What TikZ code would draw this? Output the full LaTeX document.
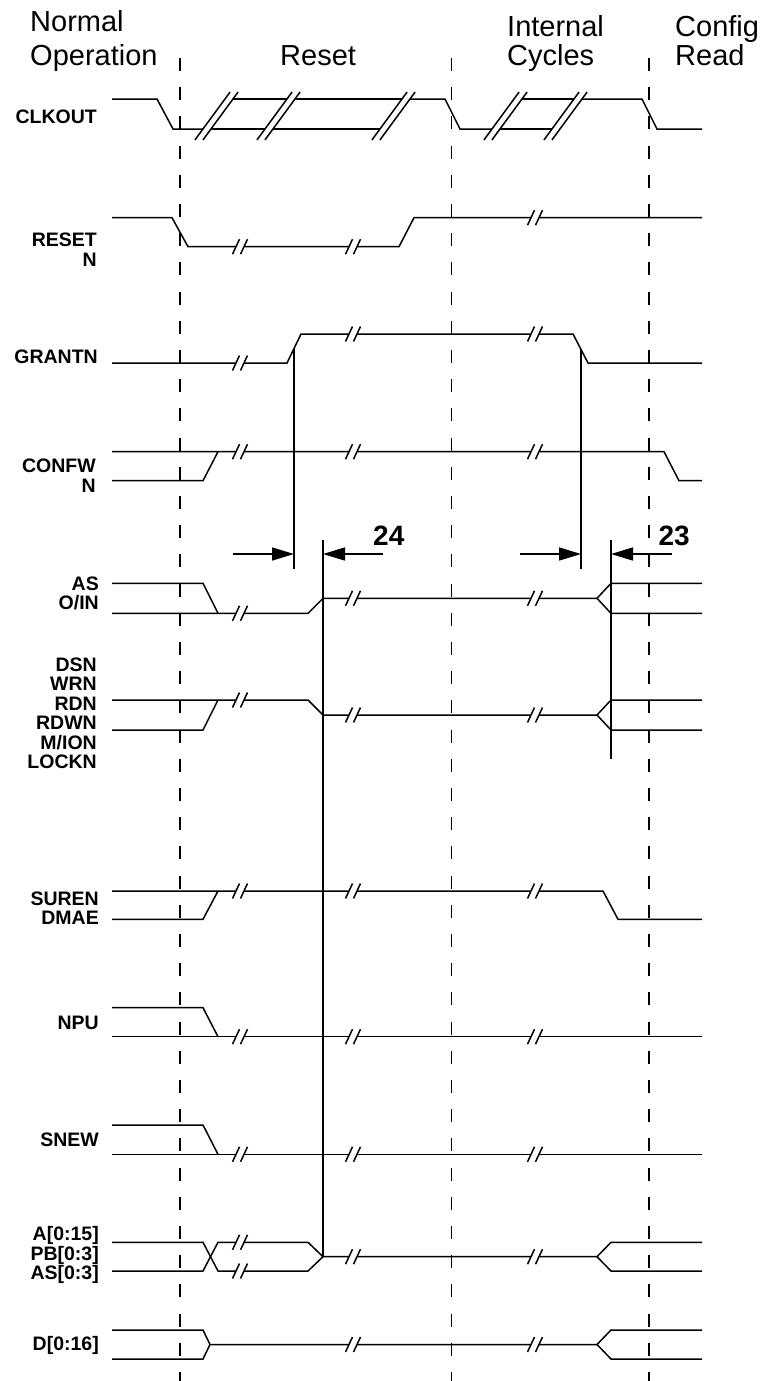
\documentclass[tikz,border=0pt]{standalone}
\usepackage{fontspec}
\setmainfont{Liberation Sans}
\usetikzlibrary{arrows.meta}
\tikzset{
  sig/.style={line width=1.5pt, line cap=butt, line join=miter},
  gridline/.style={line width=1.5pt, dash pattern=on 13pt off 16.2pt},
  lab/.style={font=\fontsize{19.5}{19.5}\selectfont\bfseries, anchor=base east, inner sep=0pt},
  head/.style={font=\fontsize{29}{31}\selectfont, anchor=base west, inner sep=0pt},
  num/.style={font=\fontsize{28}{30}\selectfont\bfseries, anchor=base west, inner sep=0pt},
  dimarrow/.style={line width=1.5pt, -{Triangle[length=22pt,width=13pt]}},
}
\newcommand\brk[2]{\draw[sig] (#1-7.5,#2+7.5) -- (#1-0.5,#2-7.5); \draw[sig] (#1+0.5,#2+7.5) -- (#1+7.5,#2-7.5);}
\newcommand\cb[1]{\draw[sig] (#1-8.1,140) -- (#1+27.1,92);}
\begin{document}
\begin{tikzpicture}[x=1pt,y=-1pt]
\useasboundingbox (0,0) rectangle (765,1381);
% headings
\node[head] (h1) at (30,32) {Normal};
\node[head] (h2) at (30,66) {Operation};
\node[head] (h3) at (280,66) {Reset};
\node[head] (h4) at (507,37) {Internal};
\node[head] (h5) at (507,66) {Cycles};
\node[head] (h6) at (675,37) {Config};
\node[head] (h7) at (675,66) {Read};
% dashed phase lines
\draw[gridline] (180,58) -- (180,1381);
\draw[gridline] (451.7,58) -- (451.7,1381);
\draw[gridline] (649,58) -- (649,1381);
% labels
\node[lab] (l1) at (97,123) {CLKOUT};
\node[lab] (l2a) at (97,246.7) {RESET};
\node[lab] (l2b) at (97,266.2) {N};
\node[lab] (l3) at (98,363.3) {GRANTN};
\node[lab] (l4a) at (96,472.7) {CONFW};
\node[lab] (l4b) at (96,492.2) {N};
\node[lab] (l5a) at (99,590) {AS};
\node[lab] (l5b) at (99,609.5) {O/IN};
\node[lab] (l6a) at (97,671) {DSN};
\node[lab] (l6b) at (97,690.5) {WRN};
\node[lab] (l6c) at (97,710) {RDN};
\node[lab] (l6d) at (97,729.5) {RDWN};
\node[lab] (l6e) at (97,749) {M/ION};
\node[lab] (l6f) at (97,768.5) {LOCKN};
\node[lab] (l7a) at (99,905) {SUREN};
\node[lab] (l7b) at (99,924.5) {DMAE};
\node[lab] (l8) at (99,1029) {NPU};
\node[lab] (l9) at (99,1146) {SNEW};
\node[lab] (l10a) at (99,1240.5) {A[0:15]};
\node[lab] (l10b) at (99,1260) {PB[0:3]};
\node[lab] (l10c) at (99,1279.5) {AS[0:3]};
\node[lab] (l11) at (99,1350.7) {D[0:16]};
% CLKOUT
\draw[sig] (112,99) -- (157,99) -- (173,129) -- (203,129);
\cb{203}\cb{211}
\draw[sig] (233,99) -- (287,99) (211,129) -- (265,129);
\cb{265}\cb{273}
\draw[sig] (295,99) -- (402,99) (273,129) -- (380,129);
\cb{380}\cb{388}
\draw[sig] (410,99) -- (445,99) -- (460,129) -- (492,129);
\cb{492}\cb{500}
\draw[sig] (522,99) -- (574,99) (500,129) -- (552,129);
\cb{552}\cb{560}
\draw[sig] (582,99) -- (642,99) -- (657,129) -- (702,129);
% RESETN
\draw[sig] (112,217.7) -- (172,217.7) -- (188,246.7) -- (236,246.7) (244,246.7) -- (349,246.7) (357,246.7) -- (399,246.7) -- (414,217.7) -- (531,217.7) (539,217.7) -- (702,217.7);
\brk{240}{246.7}\brk{353}{246.7}\brk{535}{217.7}
% GRANTN
\draw[sig] (112,363) -- (236,363) (244,363) -- (287,363) -- (301,334) -- (349,334) (357,334) -- (531,334) (539,334) -- (573,334) -- (588,363) -- (702,363);
\brk{240}{363}\brk{353}{334}\brk{535}{334}
\coordinate (g1) at (294,348.5);
\coordinate (g1e) at (294,569);
\coordinate (g2) at (581,348.5);
\coordinate (g2e) at (581,569);
\draw[sig] (g1) -- (g1e);
\draw[sig] (g2) -- (g2e);
% CONFWN
\draw[sig] (112,451.7) -- (236,451.7) (244,451.7) -- (349,451.7) (357,451.7) -- (531,451.7) (539,451.7) -- (664,451.7) -- (679,480.7) -- (702,480.7);
\draw[sig] (112,480.7) -- (203,480.7) -- (218,451.7);
\brk{240}{451.7}\brk{353}{451.7}\brk{535}{451.7}
% timing 24 / 23
\coordinate (v24) at (323,540);
\coordinate (v24e) at (323,1256.7);
\coordinate (v23) at (611,540);
\coordinate (v23e) at (611,759);
\draw[sig] (v24) -- (v24e);
\draw[sig] (v23) -- (v23e);
\coordinate (a1s) at (233,554);
\coordinate (a1e) at (294,554);
\coordinate (a2s) at (383,554);
\coordinate (a2e) at (323,554);
\coordinate (a3s) at (520,554);
\coordinate (a3e) at (581,554);
\coordinate (a4s) at (672,554);
\coordinate (a4e) at (611,554);
\draw[dimarrow] (a1s) -- (a1e);
\draw[dimarrow] (a2s) -- (a2e);
\draw[dimarrow] (a3s) -- (a3e);
\draw[dimarrow] (a4s) -- (a4e);
\node[num] (n24) at (373,545.7) {24};
\node[num] (n23) at (658.3,545.7) {23};
% AS O/IN
\draw[sig] (112,583.3) -- (203,583.3) -- (218,613.3);
\draw[sig] (112,613.3) -- (236,613.3) (244,613.3) -- (308,613.3) -- (323,598.3) -- (349,598.3) (357,598.3) -- (531,598.3) (539,598.3) -- (597,598.3) -- (611,583.3) -- (702,583.3);
\draw[sig] (597,598.3) -- (611,613.3) -- (702,613.3);
\brk{240}{613.3}\brk{353}{598.3}\brk{535}{598.3}
% DSN group
\draw[sig] (112,700) -- (236,700) (244,700) -- (308,700) -- (323,715) -- (349,715) (357,715) -- (531,715) (539,715) -- (597,715) -- (611,700) -- (702,700);
\draw[sig] (597,715) -- (611,730) -- (702,730);
\draw[sig] (112,730) -- (203,730) -- (218,700);
\brk{240}{700}\brk{353}{715}\brk{535}{715}
% SUREN DMAE
\draw[sig] (112,891) -- (236,891) (244,891) -- (349,891) (357,891) -- (531,891) (539,891) -- (603,891) -- (618,919.3) -- (702,919.3);
\draw[sig] (112,919.3) -- (203,919.3) -- (218,891);
\brk{240}{891}\brk{353}{891}\brk{535}{891}
% NPU
\draw[sig] (112,1007.7) -- (203,1007.7) -- (218,1036.7);
\draw[sig] (112,1036.7) -- (236,1036.7) (244,1036.7) -- (349,1036.7) (357,1036.7) -- (531,1036.7) (539,1036.7) -- (702,1036.7);
\brk{240}{1036.7}\brk{353}{1036.7}\brk{535}{1036.7}
% SNEW
\draw[sig] (112,1125) -- (203,1125) -- (218,1154.3);
\draw[sig] (112,1154.3) -- (236,1154.3) (244,1154.3) -- (349,1154.3) (357,1154.3) -- (531,1154.3) (539,1154.3) -- (702,1154.3);
\brk{240}{1154.3}\brk{353}{1154.3}\brk{535}{1154.3}
% A PB AS
\draw[sig] (112,1242.3) -- (203,1242.3) -- (218,1271) -- (236,1271) (244,1271) -- (308,1271) -- (323,1256.7);
\draw[sig] (112,1271) -- (203,1271) -- (218,1242.3) -- (236,1242.3) (244,1242.3) -- (308,1242.3) -- (323,1256.7) -- (349,1256.7) (357,1256.7) -- (531,1256.7) (539,1256.7) -- (597,1256.7) -- (611,1242.3) -- (702,1242.3);
\draw[sig] (597,1256.7) -- (611,1271) -- (702,1271);
\brk{240}{1242.3}\brk{240}{1271}\brk{353}{1256.7}\brk{535}{1256.7}
% D
\draw[sig] (112,1330) -- (203,1330) -- (210,1344.5) -- (349,1344.5) (357,1344.5) -- (531,1344.5) (539,1344.5) -- (597,1344.5) -- (611,1330) -- (702,1330);
\draw[sig] (112,1359) -- (203,1359) -- (210,1344.5);
\draw[sig] (597,1344.5) -- (611,1359) -- (702,1359);
\brk{353}{1344.5}\brk{535}{1344.5}
\end{tikzpicture}
\end{document}
